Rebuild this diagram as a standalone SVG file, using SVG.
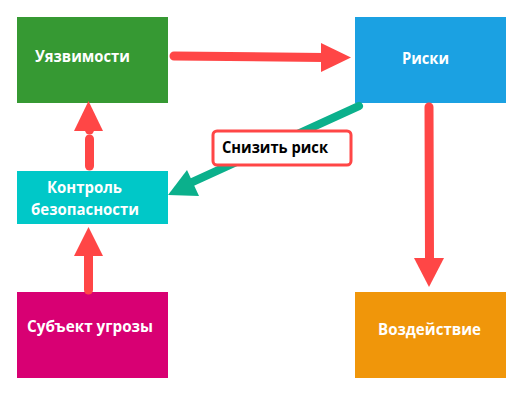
<svg xmlns="http://www.w3.org/2000/svg" width="527" height="400" viewBox="0 0 527 400">
<style>
.lbl{font-family:"Open Sans","Liberation Sans",sans-serif;font-weight:bold;font-size:16.5px;fill:#ffffff}
.red{stroke:#ff4646;stroke-width:9;stroke-linecap:round;fill:none}
.redh{fill:#ff4646}
</style>
<rect width="527" height="400" fill="#ffffff"/>
<g id="node-vuln"><rect x="17" y="17" width="151" height="86" fill="#369933"/><text class="lbl" x="35" y="62" textLength="95" lengthAdjust="spacingAndGlyphs">Уязвимости</text></g>
<g id="node-risks"><rect x="355" y="17" width="151" height="86" fill="#1ba1e2"/><text class="lbl" x="402" y="63.5" textLength="47" lengthAdjust="spacingAndGlyphs">Риски</text></g>
<g id="node-control"><rect x="17" y="171" width="151" height="53" fill="#00c8c8"/><text class="lbl" x="47" y="193" textLength="75" lengthAdjust="spacingAndGlyphs">Контроль</text><text class="lbl" x="31" y="215" textLength="108" lengthAdjust="spacingAndGlyphs">безопасности</text></g>
<g id="node-subject"><rect x="17" y="292" width="151" height="86" fill="#d80073"/><text class="lbl" x="27" y="332" textLength="126" lengthAdjust="spacingAndGlyphs">Субъект угрозы</text></g>
<g id="node-impact"><rect x="355" y="292" width="151" height="86" fill="#f0960a"/><text class="lbl" x="378" y="335" textLength="103" lengthAdjust="spacingAndGlyphs">Воздействие</text></g>
<g id="connectors">
<line class="red" x1="174" y1="56" x2="324" y2="57.5" stroke-width="10"/>
<polygon class="redh" points="321,43 351,57.5 321,72"/>
<line class="red" x1="429" y1="107" x2="429.5" y2="260"/>
<polygon class="redh" points="414,258 444,258 429,287"/>
<line class="red" x1="89.5" y1="139" x2="89.5" y2="166"/>
<line class="red" x1="89.5" y1="128" x2="89.5" y2="130"/>
<polygon class="redh" points="88.5,101 103,131 74,131"/>
<line class="red" x1="88.5" y1="254" x2="88.5" y2="290"/>
<polygon class="redh" points="88.5,227 103,256 74,256"/>
<line x1="359" y1="106" x2="188" y2="184" stroke="#0bb08c" stroke-width="8" stroke-linecap="round"/>
<polygon points="168,195 187,170 199,196" fill="#0bb08c"/>
</g>
<g id="label-reduce"><rect x="213" y="131" width="138" height="34" rx="4" fill="#ffffff" stroke="#ff4646" stroke-width="3"/><text x="222" y="153" font-family="Open Sans, Liberation Sans, sans-serif" font-weight="bold" font-size="16" fill="#000000" textLength="106" lengthAdjust="spacingAndGlyphs">Снизить риск</text></g>
</svg>
